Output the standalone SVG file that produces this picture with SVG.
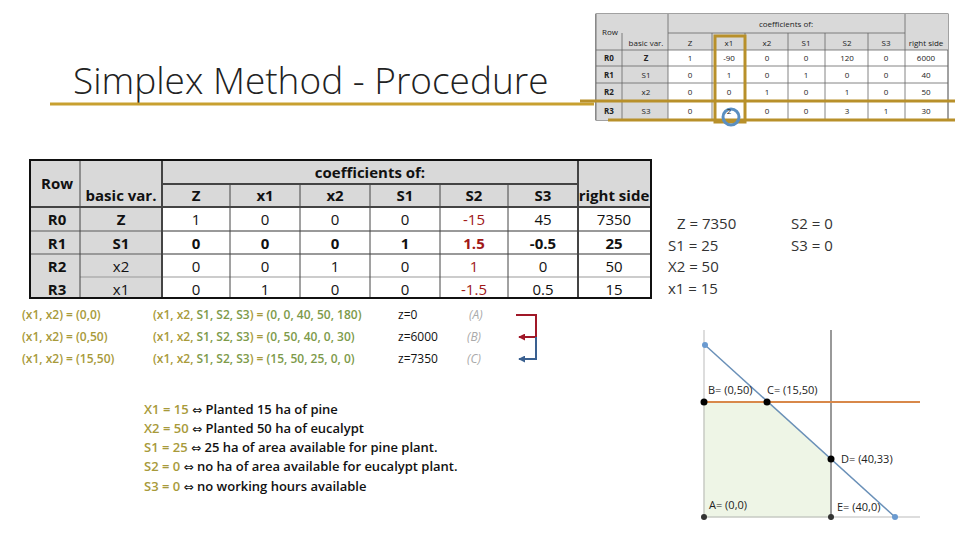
<svg xmlns="http://www.w3.org/2000/svg" width="960" height="540" viewBox="0 0 960 540">
<style>
text{font-family:"Open Sans","Liberation Sans",sans-serif}
.t{font-size:15px;text-anchor:middle;fill:#111}
.b{font-weight:bold}
.r{fill:#a01818}
.s{font-size:8px;text-anchor:middle;fill:#222}
.g{fill:#a89a3a}
.gr{fill:#7d9a4a}
.lab{font-size:11px;fill:#222}
.gy{font-size:15px;fill:#333}
.dj{font-family:"DejaVu Sans",sans-serif;font-size:12px}
</style>
<defs>
<marker id="ar" viewBox="0 0 8 8" refX="7" refY="4" markerWidth="3.5" markerHeight="3.5" orient="auto"><path d="M0,0L8,4L0,8z" fill="context-stroke"/></marker>
</defs>
<rect width="960" height="540" fill="#fff"/>
<g id="title">
<text x="73" y="94" font-size="37" font-weight="300" fill="#222">Simplex Method - Procedure</text>
<line x1="50" y1="104" x2="594" y2="104" stroke="#c8a030" stroke-width="3"/>
</g>
<g id="small-table">
<rect x="596" y="14" width="352" height="106" fill="#fff" stroke="#444"/>
<rect x="596" y="14" width="352" height="36" fill="#d9d9d9"/>
<rect x="596" y="50" width="72" height="70" fill="#d9d9d9"/>
<g stroke="#666" stroke-width="0.8">
<line x1="668" y1="33" x2="905" y2="33"/><line x1="596" y1="50" x2="948" y2="50"/>
<line x1="596" y1="66" x2="948" y2="66"/><line x1="596" y1="83" x2="948" y2="83"/><line x1="596" y1="101" x2="948" y2="101"/>
<line x1="622" y1="33" x2="622" y2="120"/><line x1="668" y1="14" x2="668" y2="120"/><line x1="905" y1="14" x2="905" y2="120"/>
<line x1="712" y1="33" x2="712" y2="120"/><line x1="745" y1="33" x2="745" y2="120"/><line x1="788" y1="33" x2="788" y2="120"/><line x1="825" y1="33" x2="825" y2="120"/><line x1="868" y1="33" x2="868" y2="120"/>
<line x1="596" y1="14" x2="596" y2="120"/>
</g>
<text class="s" x="610" y="35">Row</text><text class="s" x="786" y="27">coefficients of:</text>
<text class="s" x="646" y="46">basic var.</text><text class="s" x="690" y="46">Z</text><text class="s" x="729" y="46">x1</text><text class="s" x="767" y="46">x2</text><text class="s" x="806" y="46">S1</text><text class="s" x="847" y="46">S2</text><text class="s" x="886" y="46">S3</text><text class="s" x="926" y="46">right side</text>
<text class="s b" x="609" y="61">R0</text><text class="s b" x="646" y="61">Z</text><text class="s" x="690" y="61">1</text><text class="s" x="729" y="61">-90</text><text class="s" x="767" y="61">0</text><text class="s" x="806" y="61">0</text><text class="s" x="847" y="61">120</text><text class="s" x="886" y="61">0</text><text class="s" x="926" y="61">6000</text>
<text class="s b" x="609" y="78">R1</text><text class="s" x="646" y="78">S1</text><text class="s" x="690" y="78">0</text><text class="s" x="729" y="78">1</text><text class="s" x="767" y="78">0</text><text class="s" x="806" y="78">1</text><text class="s" x="847" y="78">0</text><text class="s" x="886" y="78">0</text><text class="s" x="926" y="78">40</text>
<text class="s b" x="609" y="95">R2</text><text class="s" x="646" y="95">x2</text><text class="s" x="690" y="95">0</text><text class="s" x="729" y="95">0</text><text class="s" x="767" y="95">1</text><text class="s" x="806" y="95">0</text><text class="s" x="847" y="95">1</text><text class="s" x="886" y="95">0</text><text class="s" x="926" y="95">50</text>
<text class="s b" x="609" y="114">R3</text><text class="s" x="646" y="114">S3</text><text class="s" x="690" y="114">0</text><text class="s" x="767" y="114">0</text><text class="s" x="806" y="114">0</text><text class="s" x="847" y="114">3</text><text class="s" x="886" y="114">1</text><text class="s" x="926" y="114">30</text>
<rect x="715" y="36" width="30" height="86" fill="none" stroke="#b8902a" stroke-width="3"/>
<path d="M580,101 H955 M608,120 H955" fill="none" stroke="#b8902a" stroke-width="3"/>
<circle cx="731" cy="117" r="8" fill="none" stroke="#5b8fc0" stroke-width="3"/>
<text class="s" x="729" y="114">2</text>
</g>
<g id="main-table">
<rect x="30" y="160" width="621" height="138" fill="#fff"/>
<rect x="30" y="160" width="621" height="47" fill="#d9d9d9"/>
<rect x="30" y="207" width="132" height="91" fill="#d9d9d9"/>
<g stroke="#444" stroke-width="1">
<line x1="162" y1="184" x2="578" y2="184" stroke-width="2"/>
<line x1="30" y1="207" x2="651" y2="207" stroke-width="2"/>
<line x1="30" y1="231" x2="651" y2="231" stroke="#999" stroke-width="2"/>
<line x1="30" y1="254" x2="651" y2="254" stroke="#999" stroke-width="2"/>
<line x1="80" y1="277" x2="651" y2="277" stroke="#999"/>
<line x1="80" y1="160" x2="80" y2="298"/><line x1="162" y1="160" x2="162" y2="298" stroke-width="2"/>
<line x1="578" y1="160" x2="578" y2="298" stroke-width="2"/>
<line x1="230" y1="184" x2="230" y2="298"/><line x1="300" y1="184" x2="300" y2="298"/><line x1="370" y1="184" x2="370" y2="298"/><line x1="440" y1="184" x2="440" y2="298"/><line x1="508" y1="184" x2="508" y2="298"/>
</g>
<rect x="30" y="160" width="621" height="138" fill="none" stroke="#111" stroke-width="2"/>
<text class="t b" x="57" y="189">Row</text><text class="t b" x="370" y="178">coefficients of:</text>
<text class="t b" x="121" y="201">basic var.</text><text class="t b" x="196" y="201">Z</text><text class="t b" x="265" y="201">x1</text><text class="t b" x="335" y="201">x2</text><text class="t b" x="405" y="201">S1</text><text class="t b" x="474" y="201">S2</text><text class="t b" x="543" y="201">S3</text><text class="t b" x="614" y="201">right side</text>
<text class="t b" x="57" y="225">R0</text><text class="t b" x="121" y="225">Z</text><text class="t" x="196" y="225">1</text><text class="t" x="265" y="225">0</text><text class="t" x="335" y="225">0</text><text class="t" x="405" y="225">0</text><text class="t r" x="474" y="225">-15</text><text class="t" x="543" y="225">45</text><text class="t" x="614" y="225">7350</text>
<text class="t b" x="57" y="249">R1</text><text class="t b" x="121" y="249">S1</text><text class="t b" x="196" y="249">0</text><text class="t b" x="265" y="249">0</text><text class="t b" x="335" y="249">0</text><text class="t b" x="405" y="249">1</text><text class="t b r" x="474" y="249">1.5</text><text class="t b" x="543" y="249">-0.5</text><text class="t b" x="614" y="249">25</text>
<text class="t b" x="57" y="272">R2</text><text class="t" x="121" y="272">x2</text><text class="t" x="196" y="272">0</text><text class="t" x="265" y="272">0</text><text class="t" x="335" y="272">1</text><text class="t" x="405" y="272">0</text><text class="t r" x="474" y="272">1</text><text class="t" x="543" y="272">0</text><text class="t" x="614" y="272">50</text>
<text class="t b" x="57" y="295">R3</text><text class="t" x="121" y="295">x1</text><text class="t" x="196" y="295">0</text><text class="t" x="265" y="295">1</text><text class="t" x="335" y="295">0</text><text class="t" x="405" y="295">0</text><text class="t r" x="474" y="295">-1.5</text><text class="t" x="543" y="295">0.5</text><text class="t" x="614" y="295">15</text>
</g>
<g id="solution">
<text class="gy" x="677" y="229">Z = 7350</text><text class="gy" x="668" y="251">S1 = 25</text><text class="gy" x="668" y="272">X2 = 50</text><text class="gy" x="668" y="294">x1 = 15</text>
<text class="gy" x="791" y="229">S2 = 0</text><text class="gy" x="791" y="251">S3 = 0</text>
</g>
<g id="iterations">
<text x="22" y="319" class="g" font-size="12" font-weight="600">(x1, x2) = (0,0)</text>
<text x="22" y="341" class="g" font-size="12" font-weight="600">(x1, x2) = (0,50)</text>
<text x="22" y="363" class="g" font-size="12" font-weight="600">(x1, x2) = (15,50)</text>
<text x="153" y="319" font-size="12" font-weight="600"><tspan class="g">(x1, x2, </tspan><tspan class="gr">S1, S2, S3</tspan><tspan class="g">) = </tspan><tspan class="gr">(0, 0, 40, 50, 180)</tspan></text>
<text x="153" y="341" font-size="12" font-weight="600"><tspan class="g">(x1, x2, </tspan><tspan class="gr">S1, S2, S3</tspan><tspan class="g">) = </tspan><tspan class="gr">(0, 50, 40, 0, 30)</tspan></text>
<text x="153" y="363" font-size="12" font-weight="600"><tspan class="g">(x1, x2, </tspan><tspan class="gr">S1, S2, S3</tspan><tspan class="g">) = </tspan><tspan class="gr">(15, 50, 25, 0, 0)</tspan></text>
<text x="398" y="319" font-size="12" fill="#111">z=0</text><text x="398" y="341" font-size="12" fill="#111">z=6000</text><text x="398" y="363" font-size="12" fill="#111">z=7350</text>
<text x="469" y="319" font-size="12" font-style="italic" fill="#aaa">(A)</text><text x="467" y="341" font-size="12" font-style="italic" fill="#aaa">(B)</text><text x="467" y="363" font-size="12" font-style="italic" fill="#aaa">(C)</text>
</g>
<g id="connectors" fill="none" stroke-width="2">
<path d="M516,315 H536 V337 H519" stroke="#a01828" marker-end="url(#ar)"/>
<path d="M536,337 V359 H519" stroke="#3a6090" marker-end="url(#ar)"/>
</g>
<g id="explanation" font-size="13" font-weight="600" fill="#111">
<text x="144" y="414"><tspan class="g">X1 = 15</tspan> <tspan class="dj" font-weight="normal">⇔</tspan> Planted 15 ha of pine</text>
<text x="144" y="433"><tspan class="g">X2 = 50</tspan> <tspan class="dj" font-weight="normal">⇔</tspan> Planted 50 ha of eucalypt</text>
<text x="144" y="452"><tspan class="g">S1 = 25</tspan> <tspan class="dj" font-weight="normal">⇔</tspan> 25 ha of area available for pine plant.</text>
<text x="144" y="471"><tspan class="g">S2 = 0</tspan> <tspan class="dj" font-weight="normal">⇔</tspan> no ha of area available for eucalypt plant.</text>
<text x="144" y="491"><tspan class="g">S3 = 0</tspan> <tspan class="dj" font-weight="normal">⇔</tspan> no working hours available</text>
</g>
<g id="graph">
<polygon points="704,402 767,402 831,459 831,517 704,517" fill="#eef5e6" stroke="#dfe8d4"/>
<line x1="704" y1="330" x2="704" y2="520" stroke="#bbb"/>
<line x1="831" y1="330" x2="831" y2="520" stroke="#999" stroke-width="2"/>
<line x1="704" y1="517" x2="920" y2="517" stroke="#bbb"/>
<line x1="704" y1="402" x2="920" y2="402" stroke="#d8884a" stroke-width="2"/>
<line x1="705" y1="345" x2="895" y2="517" stroke="#6a90b8" stroke-width="1.5"/>
<circle cx="705" cy="345" r="3" fill="#6a9ad0"/><circle cx="895" cy="517" r="3" fill="#6a9ad0"/>
<circle cx="704" cy="402" r="3.5" fill="#000"/><circle cx="767" cy="402" r="3.5" fill="#000"/><circle cx="831" cy="459" r="3.5" fill="#000"/><circle cx="704" cy="517" r="3" fill="#333"/><circle cx="831" cy="517" r="3" fill="#333"/>
<text class="lab" x="708" y="394">B= (0,50)</text><text class="lab" x="767" y="394">C= (15,50)</text><text class="lab" x="841" y="463">D= (40,33)</text><text class="lab" x="709" y="509" fill="#555">A= (0,0)</text><text class="lab" x="837" y="511">E= (40,0)</text>
</g>
</svg>
